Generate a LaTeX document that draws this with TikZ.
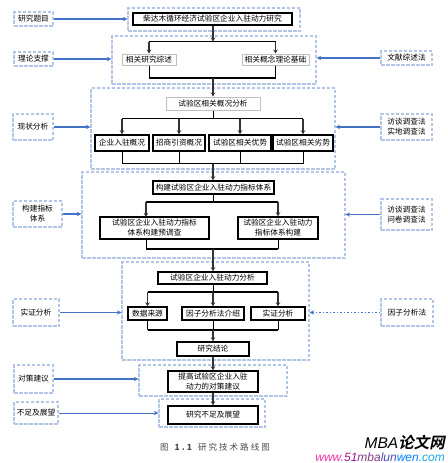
\documentclass[tikz,border=0pt]{standalone}
\usepackage{fontspec}
\setmainfont{Noto Sans CJK SC}
\newfontfamily\capfont[LetterSpace=24]{Noto Sans CJK SC}
\newfontfamily\markcjk[FakeSlant=0.2]{Noto Sans CJK SC Bold}
\newfontfamily\marklatin{Liberation Sans}
\definecolor{framecol}{HTML}{B4C6E7}
\definecolor{arrowcol}{HTML}{4472C4}
\definecolor{graycol}{HTML}{BFBFBF}
\usetikzlibrary{arrows.meta}
\tikzset{
  every node/.style={font=\fontsize{7.7}{10}\selectfont, align=center, inner sep=0pt, text=black},
  frame/.style={draw=framecol, line width=1.2pt, dash pattern=on 3.5pt off 1.5pt, rectangle},
  blackbox/.style={draw=black, line width=1.5pt, rectangle, fill=white},
  graybox/.style={draw=graycol, line width=1pt, rectangle, fill=white},
  bus/.style={draw=black, line width=1.6pt},
  link/.style={draw=black, line width=0.9pt},
  linkto/.style={draw=black!80, line width=1.2pt, -{Stealth[length=4pt,width=4.5pt]}},
  sidearrow/.style={draw=arrowcol, line width=1.5pt, -{Stealth[length=4.5pt,width=4.5pt]}},
}
\begin{document}
\begin{tikzpicture}[x=1pt,y=-1pt]
  \useasboundingbox (0,0) rectangle (447,463);

  % Dashed frames
  \foreach \name/\xa/\ya/\xb/\yb in {ftitle/128/8/300/31, ftheory/112/36/316/84, fstatus/91/88/335/169,
    fsystem/82/172/345/258, fdynamic/122/262/309/360, fadvice/139/365/287/396, ffuture/159/399/265/427} {
    \node[frame, minimum width=\xb pt-\xa pt, minimum height=\yb pt-\ya pt] (\name) at ({(\xa+\xb)/2},{(\ya+\yb)/2}) {};
  }

  % Left and right labels
  \foreach \name/\xa/\ya/\xb/\yb/\txt in {lresearch/14/12/53/26/研究题目, ltheory/14/52/53/66/理论支撑,
    lstatus/13/114/53/140/现状分析, lsystem/13/201/62/227/{构建指标\\体系}, lempiric/13/299/59/326/实证分析,
    ladvice/14/365/53/393/对策建议, lfuture/14/402/58/424/不足及展望,
    rreview/381/51/432/65/文献综述法, rstatus/381/114/432/140/{访谈调查法\\实地调查法},
    rsystem/381/199/432/230/{访谈调查法\\问卷调查法}, rfactor/381/299/433/326/因子分析法} {
    \node[frame, minimum width=\xb pt-\xa pt, minimum height=\yb pt-\ya pt] (\name) at ({(\xa+\xb)/2},{(\ya+\yb)/2}) {\txt};
  }

  % Boxes
  \foreach \name/\xa/\ya/\xb/\yb/\txt in {title/133/13/292/25/柴达木循环经济试验区企业入驻动力研究,
    companyinfo/95/135/149/151/企业入驻概况, invest/153/135/205/151/招商引资概况,
    strength/209/135/271/151/试验区相关优势, weakness/273/135/333/151/试验区相关劣势,
    system/153/181/274/194/构建试验区企业入驻动力指标体系,
    presurvey/100/217/209/239/{试验区企业入驻动力指标\\体系构建预调查},
    build/238/217/318/239/{试验区企业入驻动力\\指标体系构建},
    dynamic/158/272/267/284/试验区企业入驻动力分析,
    data/128/307/167/320/数据来源, factor/182/307/244/320/因子分析法介绍, empiric/251/307/305/320/实证分析,
    result/177/342/249/356/研究结论,
    advice/168/371/258/392/{提高试验区企业入驻\\动力的对策建议},
    future/168/406/258/424/研究不足及展望} {
    \node[blackbox, minimum width=\xb pt-\xa pt, minimum height=\yb pt-\ya pt] (\name) at ({(\xa+\xb)/2},{(\ya+\yb)/2}) {\txt};
  }
  \foreach \name/\xa/\ya/\xb/\yb/\txt in {survey/122/54/176/65/相关研究综述, concept/242/54/309/65/相关概念理论基础,
    overview/166/97/260/110/试验区相关概况分析} {
    \node[graybox, minimum width=\xb pt-\xa pt, minimum height=\yb pt-\ya pt] (\name) at ({(\xa+\xb)/2},{(\ya+\yb)/2}) {\txt};
  }

  % Bus points
  \coordinate (busa) at (213,41.5);
  \coordinate (busb) at (213,78);
  \coordinate (busc) at (213,118.5);
  \coordinate (busd) at (213,163.5);
  \coordinate (buse) at (213,202);
  \coordinate (busf) at (213,249);
  \coordinate (busg) at (213,292);
  \coordinate (bush) at (213,330);
  \coordinate (presurveyin) at (146,217);

  % Theory row
  \draw[linkto] (title.south -| busa) -- (busa);
  \draw[bus] (survey.north |- busa) -- (concept.north |- busa);
  \draw[bus] (survey.south |- busb) -- (concept.south |- busb);
  \foreach \to in {survey, concept} {
    \draw[linkto] (\to.north |- busa) -- (\to.north);
    \draw[link] (\to.south) -- (\to.south |- busb);
  }
  \draw[linkto] (busb) -- (overview.north -| busb);

  % Status row
  \draw[link] (overview.south -| busc) -- (busc);
  \draw[bus] (companyinfo.north |- busc) -- (weakness.north |- busc);
  \draw[bus] (companyinfo.south |- busd) -- (weakness.south |- busd);
  \foreach \to in {companyinfo, invest, strength, weakness} {
    \draw[linkto] (\to.north |- busc) -- (\to.north);
    \draw[link] (\to.south) -- (\to.south |- busd);
  }
  \draw[linkto] (busd) -- (system.north -| busd);

  % System row
  \draw[link] (system.south -| buse) -- (buse);
  \draw[bus] (presurveyin |- buse) -- (build.north |- buse);
  \draw[bus] (presurveyin |- busf) -- (build.south |- busf);
  \draw[linkto] (presurveyin |- buse) -- (presurveyin);
  \draw[linkto] (build.north |- buse) -- (build.north);
  \draw[link] (presurvey.south -| presurveyin) -- (presurveyin |- busf);
  \draw[link] (build.south) -- (build.south |- busf);
  \draw[linkto] (busf) -- (dynamic.north -| busf);

  % Dynamic row
  \draw[link] (dynamic.south -| busg) -- (busg);
  \draw[bus] (data.north |- busg) -- (empiric.north |- busg);
  \draw[bus] (data.south |- bush) -- (empiric.south |- bush);
  \foreach \to in {data, factor, empiric} {
    \draw[linkto] (\to.north |- busg) -- (\to.north);
    \draw[link] (\to.south) -- (\to.south |- bush);
  }
  \draw[linkto] (bush) -- (result.north);
  \draw[linkto] (result) -- (advice);
  \draw[linkto] (advice) -- (future);

  % Blue arrows
  \foreach \from/\to in {lresearch/ftitle, ltheory/ftheory, lstatus/fstatus, lsystem/fsystem, lempiric/fdynamic, ladvice/fadvice} {
    \draw[sidearrow] (\from.east) -- (\from.east -| \to.west);
  }
  \draw[sidearrow, line width=0.8pt] (lfuture.east) -- (lfuture.east -| ffuture.west);
  \foreach \from/\to in {rreview/ftheory, rstatus/fstatus, rsystem/fsystem} {
    \draw[sidearrow] (\from.west) -- (\from.west -| \to.east);
  }
  \draw[sidearrow, dotted] (rfactor.west) -- (rfactor.west -| fdynamic.east);

  % Caption and mark
  \node[font=\capfont\fontsize{8.5}{10}\selectfont, text=black!70] (caption) at (215,447) {图 \textbf{1.1} 研究技术路线图};
  \node[anchor=east, font=\fontsize{15.5}{16}\selectfont] (markname) at (445,442.5) {\marklatin\itshape MBA\markcjk 论文网};
  \node[anchor=east, font=\marklatin\itshape\fontsize{12}{13}\selectfont] (markurl) at (445,457)
    {\textcolor{magenta!80!white}{www.}\textcolor{magenta!60!blue}{51}\textcolor{violet!50!gray}{mba}\textcolor{blue!40!gray}{lun}\textcolor{blue!50!cyan}{wen}\textcolor{cyan!80!teal}{.com}};
\end{tikzpicture}
\end{document}
